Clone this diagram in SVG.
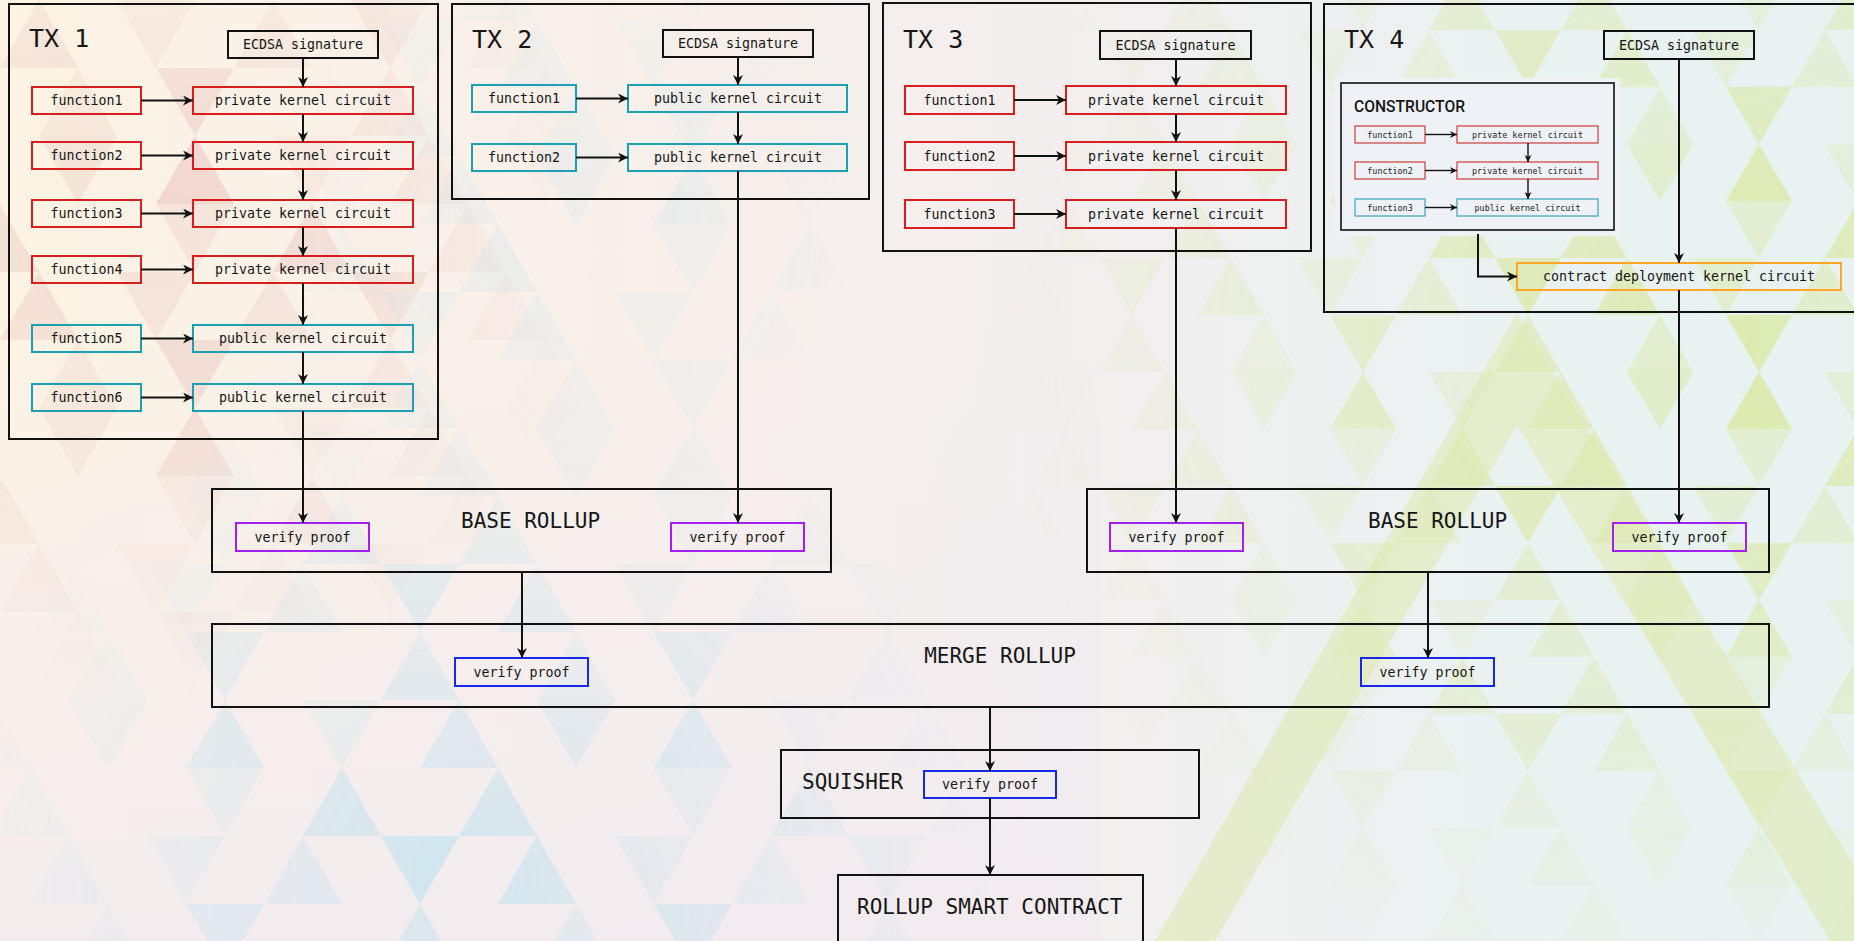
<svg xmlns="http://www.w3.org/2000/svg" xmlns:xlink="http://www.w3.org/1999/xlink" width="1854" height="941" viewBox="0 0 1854 941">
<defs>
<style>
.bx{fill:none;stroke:#111;stroke-width:2}
.red{fill:none;stroke:#d71d1d;stroke-width:2}
.teal{fill:none;stroke:#1d9fb2;stroke-width:2}
.pur{fill:none;stroke:#a31ff0;stroke-width:2}
.blu{fill:none;stroke:#1529e6;stroke-width:2}
.org{fill:none;stroke:#ffa52a;stroke-width:2}
.ired{fill:none;stroke:#d24a4a;stroke-width:1.3}
.iteal{fill:none;stroke:#4aa9c0;stroke-width:1.3}
.lbl{font-family:"DejaVu Sans Mono","Liberation Mono",monospace;font-size:13.3px;fill:#141414;text-anchor:middle}
.sm{font-family:"DejaVu Sans Mono","Liberation Mono",monospace;font-size:8.4px;fill:#222;text-anchor:middle}
.hdr{font-family:"DejaVu Sans Mono","Liberation Mono",monospace;font-size:21px;fill:#161616}
.txh{font-family:"DejaVu Sans Mono","Liberation Mono",monospace;font-size:25px;fill:#161616}
.con{fill:none;stroke:#111;stroke-width:2}
.icon{fill:none;stroke:#111;stroke-width:1.4}
</style>
<marker id="ah" viewBox="0 0 10 10" refX="10" refY="5" markerWidth="11" markerHeight="10" markerUnits="userSpaceOnUse" orient="auto">
<path d="M0,0 L10,5 L0,10 L3,5 z" fill="#111"/>
</marker>
<marker id="ahs" viewBox="0 0 10 10" refX="10" refY="5" markerWidth="8" markerHeight="7" markerUnits="userSpaceOnUse" orient="auto">
<path d="M0,0 L10,5 L0,10 L3,5 z" fill="#111"/>
</marker>
<linearGradient id="bg" x1="0" y1="0" x2="1" y2="0">
<stop offset="0" stop-color="#fcf3e4"/>
<stop offset="0.3" stop-color="#f8f0ea"/>
<stop offset="0.55" stop-color="#f3eeee"/>
<stop offset="0.8" stop-color="#ebf1f1"/>
<stop offset="1" stop-color="#e7f2f1"/>
</linearGradient>
<linearGradient id="bgv" x1="0" y1="0" x2="0" y2="1">
<stop offset="0.35" stop-color="#f1ebf0" stop-opacity="0"/>
<stop offset="1" stop-color="#f1ebf0" stop-opacity="0.85"/>
</linearGradient>
<g id="tiles">
<polygon points="0,68 39,0 78,68" fill-opacity="0.8"/>
<polygon points="117,0 195,0 156,68" fill-opacity="0.5"/>
<polygon points="234,68 273,0 312,68" fill-opacity="0.6"/>
<polygon points="351,0 429,0 390,68" fill-opacity="1"/>
<polygon points="39,136 78,68 117,136" fill-opacity="0.5"/>
<polygon points="156,68 234,68 195,136" fill-opacity="0.9"/>
<polygon points="351,136 390,68 429,136" fill-opacity="0.7"/>
<polygon points="39,136 117,136 78,204" fill-opacity="0.6"/>
<polygon points="156,204 195,136 234,204" fill-opacity="1"/>
<polygon points="273,136 351,136 312,204" fill-opacity="0.4"/>
<polygon points="390,204 429,136 468,204" fill-opacity="0.7"/>
<polygon points="-39,272 0,204 39,272" fill-opacity="0.8"/>
<polygon points="429,272 468,204 507,272" fill-opacity="0.8"/>
<polygon points="156,204 234,204 195,272" fill-opacity="0.5"/>
<polygon points="273,272 312,204 351,272" fill-opacity="0.9"/>
</g>
<pattern id="pR" patternUnits="userSpaceOnUse" width="468" height="272" x="0" y="0"><use xlink:href="#tiles" fill="#efd3cc"/></pattern>
<pattern id="pB" patternUnits="userSpaceOnUse" width="468" height="272" x="30" y="20"><use xlink:href="#tiles" fill="#cde5ee"/></pattern>
<pattern id="pG" patternUnits="userSpaceOnUse" width="396" height="228" x="10" y="30"><use xlink:href="#tiles" fill="#dbe9a6" transform="scale(0.846 0.838)"/></pattern>
<radialGradient id="gR" cx="150" cy="240" r="460" gradientUnits="userSpaceOnUse"><stop offset="0" stop-color="#fff"/><stop offset="1" stop-color="#000"/></radialGradient>
<radialGradient id="gB" cx="480" cy="880" r="520" gradientUnits="userSpaceOnUse"><stop offset="0" stop-color="#fff"/><stop offset="1" stop-color="#000"/></radialGradient>
<radialGradient id="gB2" cx="560" cy="220" r="300" gradientUnits="userSpaceOnUse"><stop offset="0" stop-color="#777"/><stop offset="1" stop-color="#000"/></radialGradient>
<radialGradient id="gG" cx="1700" cy="330" r="700" gradientUnits="userSpaceOnUse"><stop offset="0" stop-color="#fff"/><stop offset="1" stop-color="#000"/></radialGradient>
<mask id="mR"><rect width="1854" height="941" fill="url(#gR)"/></mask>
<mask id="mB"><rect width="1854" height="941" fill="url(#gB)"/></mask>
<mask id="mB2"><rect width="1854" height="941" fill="url(#gB2)"/></mask>
<mask id="mG"><rect width="1854" height="941" fill="url(#gG)"/></mask>
</defs>

<g id="background">
<rect width="1854" height="941" fill="url(#bg)"/>
<rect width="1100" height="941" fill="url(#bgv)"/>
<rect width="1854" height="941" fill="url(#pR)" mask="url(#mR)"/>
<rect width="1854" height="941" fill="url(#pB)" mask="url(#mB)"/>
<rect width="1854" height="941" fill="url(#pB)" mask="url(#mB2)"/>
<rect width="1854" height="941" fill="url(#pG)" mask="url(#mG)"/>
<path d="M1517,313 L1900,941 L1155,941 Z M1517,425 L1215,941 L1830,941 Z" fill="#dfe9ad" fill-opacity="0.55" fill-rule="evenodd"/>
</g>

<g id="tx1">
<rect class="bx" x="9" y="4" width="429" height="435"/>
<text class="txh" x="29" y="47">TX 1</text>
<g id="tx1-ecdsa"><rect class="bx" x="228" y="31" width="150" height="27"/><text class="lbl" x="303" y="49">ECDSA signature</text></g>
<g id="tx1-f1"><rect class="red" x="32" y="87" width="109" height="27"/><text class="lbl" x="86.5" y="105">function1</text></g>
<g id="tx1-k1"><rect class="red" x="193" y="87" width="220" height="27"/><text class="lbl" x="303" y="105">private kernel circuit</text></g>
<g id="tx1-f2"><rect class="red" x="32" y="142" width="109" height="27"/><text class="lbl" x="86.5" y="160">function2</text></g>
<g id="tx1-k2"><rect class="red" x="193" y="142" width="220" height="27"/><text class="lbl" x="303" y="160">private kernel circuit</text></g>
<g id="tx1-f3"><rect class="red" x="32" y="200" width="109" height="27"/><text class="lbl" x="86.5" y="218">function3</text></g>
<g id="tx1-k3"><rect class="red" x="193" y="200" width="220" height="27"/><text class="lbl" x="303" y="218">private kernel circuit</text></g>
<g id="tx1-f4"><rect class="red" x="32" y="256" width="109" height="27"/><text class="lbl" x="86.5" y="274">function4</text></g>
<g id="tx1-k4"><rect class="red" x="193" y="256" width="220" height="27"/><text class="lbl" x="303" y="274">private kernel circuit</text></g>
<g id="tx1-f5"><rect class="teal" x="32" y="325" width="109" height="27"/><text class="lbl" x="86.5" y="343">function5</text></g>
<g id="tx1-k5"><rect class="teal" x="193" y="325" width="220" height="27"/><text class="lbl" x="303" y="343">public kernel circuit</text></g>
<g id="tx1-f6"><rect class="teal" x="32" y="384" width="109" height="27"/><text class="lbl" x="86.5" y="402">function6</text></g>
<g id="tx1-k6"><rect class="teal" x="193" y="384" width="220" height="27"/><text class="lbl" x="303" y="402">public kernel circuit</text></g>
</g>

<g id="tx2">
<rect class="bx" x="452" y="4" width="417" height="195"/>
<text class="txh" x="472" y="48">TX 2</text>
<g id="tx2-ecdsa"><rect class="bx" x="663" y="30" width="150" height="27"/><text class="lbl" x="738" y="48">ECDSA signature</text></g>
<g id="tx2-f1"><rect class="teal" x="472" y="85" width="104" height="27"/><text class="lbl" x="524" y="103">function1</text></g>
<g id="tx2-k1"><rect class="teal" x="628" y="85" width="219" height="27"/><text class="lbl" x="738" y="103">public kernel circuit</text></g>
<g id="tx2-f2"><rect class="teal" x="472" y="144" width="104" height="27"/><text class="lbl" x="524" y="162">function2</text></g>
<g id="tx2-k2"><rect class="teal" x="628" y="144" width="219" height="27"/><text class="lbl" x="738" y="162">public kernel circuit</text></g>
</g>

<g id="tx3">
<rect class="bx" x="883" y="3" width="428" height="248"/>
<text class="txh" x="903" y="48">TX 3</text>
<g id="tx3-ecdsa"><rect class="bx" x="1100" y="31" width="151" height="28"/><text class="lbl" x="1175.5" y="49.5">ECDSA signature</text></g>
<g id="tx3-f1"><rect class="red" x="905" y="86" width="109" height="28"/><text class="lbl" x="959.5" y="104.5">function1</text></g>
<g id="tx3-k1"><rect class="red" x="1066" y="86" width="220" height="28"/><text class="lbl" x="1176" y="104.5">private kernel circuit</text></g>
<g id="tx3-f2"><rect class="red" x="905" y="142" width="109" height="28"/><text class="lbl" x="959.5" y="160.5">function2</text></g>
<g id="tx3-k2"><rect class="red" x="1066" y="142" width="220" height="28"/><text class="lbl" x="1176" y="160.5">private kernel circuit</text></g>
<g id="tx3-f3"><rect class="red" x="905" y="200" width="109" height="28"/><text class="lbl" x="959.5" y="218.5">function3</text></g>
<g id="tx3-k3"><rect class="red" x="1066" y="200" width="220" height="28"/><text class="lbl" x="1176" y="218.5">private kernel circuit</text></g>
</g>

<g id="tx4">
<rect class="bx" x="1324" y="4" width="560" height="308"/>
<text class="txh" x="1344" y="48">TX 4</text>
<g id="tx4-ecdsa"><rect class="bx" x="1604" y="31" width="150" height="28"/><text class="lbl" x="1679" y="49.5">ECDSA signature</text></g>
<g id="constructor">
<rect x="1335" y="78" width="285" height="158" fill="#eef1f6"/>
<rect x="1341" y="83" width="273" height="147" fill="none" stroke="#2a2a2a" stroke-width="1.8"/>
<text x="1354" y="112" font-family="Roboto,'Liberation Sans',sans-serif" font-weight="500" font-size="17" fill="#161616" textLength="111" lengthAdjust="spacingAndGlyphs">CONSTRUCTOR</text>
<g id="c-f1"><rect class="ired" x="1355" y="126" width="70" height="17"/><text class="sm" x="1390" y="137.5">function1</text></g>
<g id="c-k1"><rect class="ired" x="1457" y="126" width="141" height="17"/><text class="sm" x="1527.5" y="137.5">private kernel circuit</text></g>
<g id="c-f2"><rect class="ired" x="1355" y="162" width="70" height="17"/><text class="sm" x="1390" y="173.5">function2</text></g>
<g id="c-k2"><rect class="ired" x="1457" y="162" width="141" height="17"/><text class="sm" x="1527.5" y="173.5">private kernel circuit</text></g>
<g id="c-f3"><rect class="iteal" x="1355" y="199" width="70" height="17"/><text class="sm" x="1390" y="210.5">function3</text></g>
<g id="c-k3"><rect class="iteal" x="1457" y="199" width="141" height="17"/><text class="sm" x="1527.5" y="210.5">public kernel circuit</text></g>
<g id="c-connectors">
<line class="icon" x1="1425" y1="134.5" x2="1457" y2="134.5" marker-end="url(#ahs)"/>
<line class="icon" x1="1425" y1="170.5" x2="1457" y2="170.5" marker-end="url(#ahs)"/>
<line class="icon" x1="1425" y1="207.5" x2="1457" y2="207.5" marker-end="url(#ahs)"/>
<line class="icon" x1="1528" y1="143" x2="1528" y2="162" marker-end="url(#ahs)"/>
<line class="icon" x1="1528" y1="179" x2="1528" y2="199" marker-end="url(#ahs)"/>
</g>
</g>
<g id="tx4-deploy"><rect class="org" x="1517" y="263" width="324" height="27"/><text class="lbl" x="1679" y="281">contract deployment kernel circuit</text></g>
</g>

<g id="base-rollup-1">
<rect class="bx" x="212" y="489" width="619" height="83"/>
<text class="hdr" x="461" y="528">BASE ROLLUP</text>
<g id="br1-v1"><rect class="pur" x="236" y="523" width="133" height="28"/><text class="lbl" x="302.5" y="541.5">verify proof</text></g>
<g id="br1-v2"><rect class="pur" x="671" y="523" width="133" height="28"/><text class="lbl" x="737.5" y="541.5">verify proof</text></g>
</g>

<g id="base-rollup-2">
<rect class="bx" x="1087" y="489" width="682" height="83"/>
<text class="hdr" x="1368" y="528">BASE ROLLUP</text>
<g id="br2-v1"><rect class="pur" x="1110" y="523" width="133" height="28"/><text class="lbl" x="1176.5" y="541.5">verify proof</text></g>
<g id="br2-v2"><rect class="pur" x="1613" y="523" width="133" height="28"/><text class="lbl" x="1679.5" y="541.5">verify proof</text></g>
</g>

<g id="merge-rollup">
<rect class="bx" x="212" y="624" width="1557" height="83"/>
<text class="hdr" x="1000" y="663" text-anchor="middle">MERGE ROLLUP</text>
<g id="mr-v1"><rect class="blu" x="455" y="658" width="133" height="28"/><text class="lbl" x="521.5" y="676.5">verify proof</text></g>
<g id="mr-v2"><rect class="blu" x="1361" y="658" width="133" height="28"/><text class="lbl" x="1427.5" y="676.5">verify proof</text></g>
</g>

<g id="squisher">
<rect class="bx" x="781" y="750" width="418" height="68"/>
<text class="hdr" x="802" y="789">SQUISHER</text>
<g id="sq-v"><rect class="blu" x="924" y="771" width="132" height="27"/><text class="lbl" x="990" y="789">verify proof</text></g>
</g>

<g id="rollup-smart-contract">
<rect class="bx" x="838" y="875" width="305" height="100"/>
<text class="hdr" x="857" y="914">ROLLUP SMART CONTRACT</text>
</g>

<g id="connectors">
<line class="con" x1="303" y1="58" x2="303" y2="87" marker-end="url(#ah)"/>
<line class="con" x1="303" y1="114" x2="303" y2="142" marker-end="url(#ah)"/>
<line class="con" x1="303" y1="169" x2="303" y2="200" marker-end="url(#ah)"/>
<line class="con" x1="303" y1="227" x2="303" y2="256" marker-end="url(#ah)"/>
<line class="con" x1="303" y1="283" x2="303" y2="325" marker-end="url(#ah)"/>
<line class="con" x1="303" y1="352" x2="303" y2="384" marker-end="url(#ah)"/>
<line class="con" x1="303" y1="411" x2="303" y2="523" marker-end="url(#ah)"/>
<line class="con" x1="141" y1="100.5" x2="193" y2="100.5" marker-end="url(#ah)"/>
<line class="con" x1="141" y1="155.5" x2="193" y2="155.5" marker-end="url(#ah)"/>
<line class="con" x1="141" y1="213.5" x2="193" y2="213.5" marker-end="url(#ah)"/>
<line class="con" x1="141" y1="269.5" x2="193" y2="269.5" marker-end="url(#ah)"/>
<line class="con" x1="141" y1="338.5" x2="193" y2="338.5" marker-end="url(#ah)"/>
<line class="con" x1="141" y1="397.5" x2="193" y2="397.5" marker-end="url(#ah)"/>

<line class="con" x1="738" y1="57" x2="738" y2="85" marker-end="url(#ah)"/>
<line class="con" x1="738" y1="112" x2="738" y2="144" marker-end="url(#ah)"/>
<line class="con" x1="738" y1="171" x2="738" y2="523" marker-end="url(#ah)"/>
<line class="con" x1="576" y1="98.5" x2="628" y2="98.5" marker-end="url(#ah)"/>
<line class="con" x1="576" y1="157.5" x2="628" y2="157.5" marker-end="url(#ah)"/>

<line class="con" x1="1176" y1="59" x2="1176" y2="86" marker-end="url(#ah)"/>
<line class="con" x1="1176" y1="114" x2="1176" y2="142" marker-end="url(#ah)"/>
<line class="con" x1="1176" y1="170" x2="1176" y2="200" marker-end="url(#ah)"/>
<line class="con" x1="1176" y1="228" x2="1176" y2="523" marker-end="url(#ah)"/>
<line class="con" x1="1014" y1="100" x2="1066" y2="100" marker-end="url(#ah)"/>
<line class="con" x1="1014" y1="156" x2="1066" y2="156" marker-end="url(#ah)"/>
<line class="con" x1="1014" y1="214" x2="1066" y2="214" marker-end="url(#ah)"/>

<line class="con" x1="1679" y1="59" x2="1679" y2="263" marker-end="url(#ah)"/>
<path class="con" d="M1478,234 V276.5 H1517" marker-end="url(#ah)"/>
<line class="con" x1="1679" y1="290" x2="1679" y2="523" marker-end="url(#ah)"/>

<line class="con" x1="522" y1="572" x2="522" y2="658" marker-end="url(#ah)"/>
<line class="con" x1="1428" y1="572" x2="1428" y2="658" marker-end="url(#ah)"/>
<line class="con" x1="990" y1="707" x2="990" y2="771" marker-end="url(#ah)"/>
<line class="con" x1="990" y1="798" x2="990" y2="875" marker-end="url(#ah)"/>
</g>
</svg>
